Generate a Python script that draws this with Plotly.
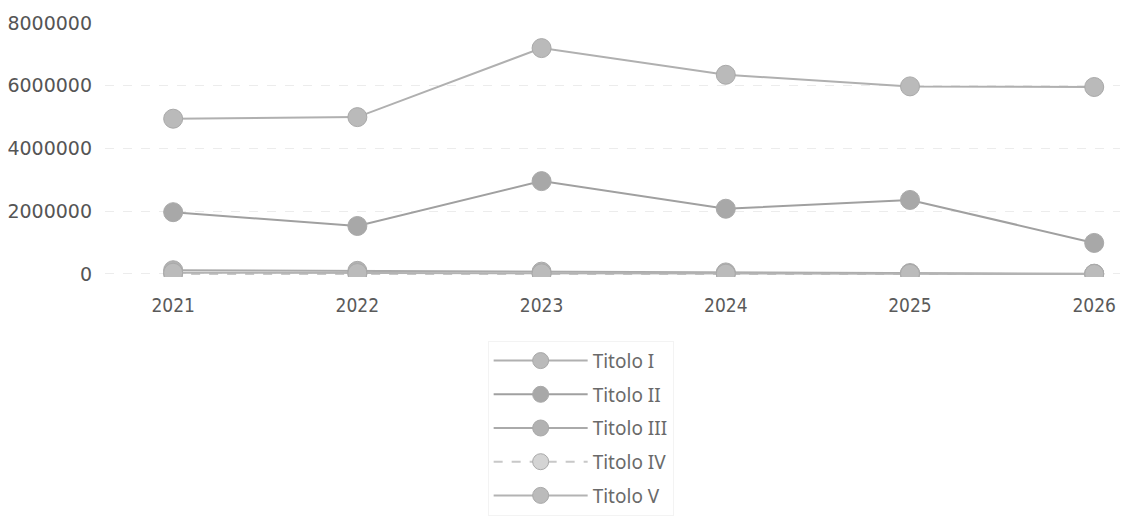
import plotly.graph_objects as go

years = [2021, 2022, 2023, 2024, 2025, 2026]
titolo_i = [4950000, 5000000, 7200000, 6350000, 5980000, 5960000]
titolo_ii = [1970000, 1530000, 2960000, 2080000, 2360000, 990000]
titolo_iii = [120000, 100000, 75000, 50000, 30000, 10000]
titolo_iv = [0, 0, 0, 0, 0, 0]
titolo_v = [40000, 30000, 20000, 10000, 5000, 0]
names = ["Titolo I", "Titolo II", "Titolo III", "Titolo IV", "Titolo V"]
y_ticks = [0, 2000000, 4000000, 6000000, 8000000]

series = [titolo_i, titolo_ii, titolo_iii, titolo_iv, titolo_v]
line_colors = ["#b0b0b0", "#a0a0a0", "#aaaaaa", "#c8c8c8", "#b3b3b3"]
marker_colors = ["#bababa", "#a8a8a8", "#b2b2b2", "#d4d4d4", "#bbbbbb"]
dashes = ["solid", "solid", "solid", "dash", "solid"]

fig = go.Figure()
for i, (nm, vals) in enumerate(zip(names, series)):
    fig.add_trace(go.Scatter(
        x=years, y=vals, name=nm, mode="lines+markers",
        line=dict(color=line_colors[i], width=2, dash=dashes[i]),
        marker=dict(color=marker_colors[i], size=19,
                    line=dict(color="#a9a9a9", width=1)),
        cliponaxis=True, legendgroup=nm,
    ))

fig.update_layout(
    width=1148, height=527,
    paper_bgcolor="white", plot_bgcolor="white",
    margin=dict(l=97, r=36, t=14, b=258, autoexpand=False),
    showlegend=True,
    legend=dict(
        orientation="v", x=0.377, xanchor="left", y=-0.25, yanchor="top",
        font=dict(family="Noto Sans", size=19, color="#6a6a6a"),
        bordercolor="#f3f3f3", borderwidth=1, tracegroupgap=6,
        itemwidth=94,
    ),
    font=dict(family="DejaVu Sans", color="#555555"),
)
fig.update_xaxes(
    tickmode="array", tickvals=years, ticktext=[str(y) for y in years],
    range=[2020.63, 2026.14], showgrid=False, zeroline=False,
    tickfont=dict(family="DejaVu Sans Condensed", size=19, color="#5a5a5a"),
    ticklabelstandoff=15, showline=False, automargin=False,
)
fig.update_yaxes(
    tickmode="array", tickvals=y_ticks, ticktext=[str(v) for v in y_ticks],
    range=[-96000, 8032000], showgrid=True, gridcolor="#ececec", griddash="dash",
    zeroline=False, tickfont=dict(family="DejaVu Sans", size=19, color="#555555"),
    ticklabelstandoff=12, automargin=False,
)
fig.write_html("out.html")
